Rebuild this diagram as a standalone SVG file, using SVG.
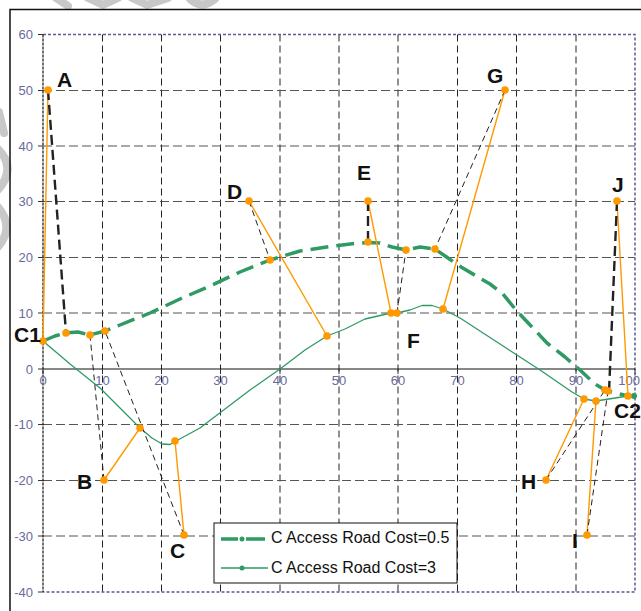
<svg xmlns="http://www.w3.org/2000/svg" width="641" height="611" viewBox="0 0 641 611">
<style>
.wm{fill:none;stroke:#c8c8c8;stroke-width:8;stroke-linecap:round;stroke-linejoin:round}
.vg{stroke:#222;stroke-width:1;stroke-dasharray:7 4;fill:none}
.hg{stroke:#555;stroke-width:1.2;stroke-dasharray:9 4;fill:none}
.bd{stroke:#5b5b8f;stroke-width:1.5;stroke-dasharray:3 2;fill:none}
.tk{font-family:"Liberation Sans",Arial,sans-serif;font-size:13px;fill:#6a6a9a}
.lb{font-family:"Liberation Sans",Arial,sans-serif;font-size:21px;font-weight:bold;fill:#111}
.lg{font-family:"Liberation Sans",Arial,sans-serif;font-size:16px;fill:#111}
.dot{fill:#FF9900}
.or{stroke:#FF9900;stroke-width:1.4;fill:none}
.bk{stroke:#222;stroke-width:1;stroke-dasharray:6 4;fill:none}
.bkt{stroke:#222;stroke-width:2.4;stroke-dasharray:10 5;fill:none}
.g1{stroke:#2f9a63;stroke-width:3.5;stroke-dasharray:18 8;fill:none;stroke-linejoin:round}
.g2{stroke:#2f9a63;stroke-width:1.3;fill:none;stroke-linejoin:round}
</style>
<rect width="641" height="611" fill="#fff"/>
<g id="watermark">
<path class="wm" d="M56,-2 L68,6"/>
<path class="wm" d="M88,-2 L103,5 L118,-2"/>
<path class="wm" d="M132,-2 L147,5 L168,-2"/>
<path class="wm" d="M190,-1 Q202,10 215,-1"/>
<path class="wm" stroke-width="6" d="M-1,112 L4,133"/>
<path class="wm" stroke-width="9" d="M-2,149 Q17,168 -2,190"/>
<path class="wm" stroke-width="8" d="M-2,207 Q15,227 -2,247"/>
</g>
<g id="frame">
<path d="M10,611 V9.5 H641" stroke="#111" stroke-width="1.5" fill="none"/>
</g>
<g id="grid">
<path class="vg" d="M102.5,34.5V592M161.5,34.5V592M220.5,34.5V592M280,34.5V592M339,34.5V592M398,34.5V592M457.5,34.5V592M516.5,34.5V592M576,34.5V592"/>
<path class="hg" d="M43,90.5H635M43,146H635M43,201.5H635M43,257.5H635M43,313H635M43,424.5H635M43,480.5H635M43,536H635"/>
<path class="bd" d="M43,34.5H635V592H43"/>
<path d="M43,34.5V592" stroke="#111" stroke-width="1.2" stroke-dasharray="3 1" fill="none"/>
<path d="M43,369H635" stroke="#111" stroke-width="1.2"/>
<path d="M38,34.5H43M38,90.5H43M38,146H43M38,201.5H43M38,257.5H43M38,313H43M38,369H43M38,424.5H43M38,480.5H43M38,536H43M38,592H43" stroke="#333" stroke-width="1"/>
<path d="M43,369V374M102.5,369V374M161.5,369V374M220.5,369V374M280,369V374M339,369V374M398,369V374M457.5,369V374M516.5,369V374M576,369V374M635,369V374" stroke="#333" stroke-width="1"/>
<g class="tk" text-anchor="end">
<text x="33" y="39">60</text><text x="33" y="95">50</text><text x="33" y="150.5">40</text><text x="33" y="206">30</text><text x="33" y="262">20</text><text x="33" y="317.5">10</text><text x="33" y="373.5">0</text><text x="33" y="429">-10</text><text x="33" y="485">-20</text><text x="33" y="540.5">-30</text><text x="33" y="596.5">-40</text>
</g>
<g class="tk" text-anchor="middle">
<text x="43" y="385">0</text><text x="102.5" y="385">10</text><text x="161.5" y="385">20</text><text x="220.5" y="385">30</text><text x="280" y="385">40</text><text x="339" y="385">50</text><text x="398" y="385">60</text><text x="457.5" y="385">70</text><text x="516.5" y="385">80</text><text x="576" y="385">90</text><text x="640" y="385" text-anchor="end">100</text>
</g>
</g>
<g id="connectors">
<polyline id="road-cost-3" class="g2" points="43,341 70,364 100,388 125,413 140,428 152,438 162,444 170,444.5 176,441 200,428 225,409 250,390 280,369 305,350 327,336 345,329 365,319 391,313 397,313 410,310 422,305.5 432,305.5 443,309 460,318 500,344 540,370 572,392 584,399 596,401 628,396 634,396"/>
<polyline id="road-cost-05" class="g1" points="43,341 55,336 66,333 78,332 90,335 105,331 120,325 150,313 180,299 210,286 240,272 270,260 300,251 330,246.5 355,243.5 368,242.5 380,243 392,247 406,250 420,247 435,249 448,258 461,267 490,284 503,294 516,310 532,327 547,343 565,357 580,370 595,384 605,390 608,391 628,396 634,396"/>
<path class="or" d="M48,90L43,341M104,480L140,428M184,535L175,441M249,201L327,336M368,201L391,313M505,90L443,309M546,480L584,399M587,535L596,401M617,201L628,396"/>
<path class="bkt" d="M48,90L66,333M368,201L368,242M617,201L609,392"/>
<path class="bk" d="M104,480L90,335M184,535L105,331M249,201L270,260M397,313L406,250M505,90L435,249M546,480L605,390M587,535L608,391"/>
<g class="dot">
<circle cx="66" cy="333" r="3.8"/><circle cx="90" cy="335" r="3.8"/><circle cx="105" cy="331" r="3.8"/><circle cx="140" cy="428" r="3.8"/><circle cx="175" cy="441" r="3.8"/><circle cx="270" cy="260" r="3.8"/><circle cx="327" cy="336" r="3.8"/><circle cx="368" cy="242" r="3.8"/><circle cx="391" cy="313" r="3.8"/><circle cx="406" cy="250" r="3.8"/><circle cx="435" cy="249" r="3.8"/><circle cx="443" cy="309" r="3.8"/><circle cx="584" cy="399" r="3.8"/><circle cx="596" cy="401" r="3.8"/><circle cx="605" cy="390" r="3.8"/><circle cx="608" cy="391" r="3.8"/>
</g>
<circle cx="634" cy="396" r="3" fill="#2f9a63"/>
</g>
<g id="node-C1"><circle class="dot" cx="43" cy="341" r="3.8"/><text class="lb" x="14" y="342">C1</text></g>
<g id="node-C2"><circle class="dot" cx="628" cy="396" r="3.8"/><text class="lb" x="614" y="418">C2</text></g>
<g id="node-A"><circle class="dot" cx="48" cy="90" r="3.8"/><text class="lb" x="57" y="87">A</text></g>
<g id="node-B"><circle class="dot" cx="104" cy="480" r="3.8"/><text class="lb" x="77" y="489">B</text></g>
<g id="node-C"><circle class="dot" cx="184" cy="535" r="3.8"/><text class="lb" x="170" y="558">C</text></g>
<g id="node-D"><circle class="dot" cx="249" cy="201" r="3.8"/><text class="lb" x="227" y="199">D</text></g>
<g id="node-E"><circle class="dot" cx="368" cy="201" r="3.8"/><text class="lb" x="357" y="180" fill="#333">E</text></g>
<g id="node-F"><circle class="dot" cx="397" cy="313" r="3.8"/><text class="lb" x="407" y="348">F</text></g>
<g id="node-G"><circle class="dot" cx="505" cy="90" r="3.8"/><text class="lb" x="487" y="83">G</text></g>
<g id="node-H"><circle class="dot" cx="546" cy="480" r="3.8"/><text class="lb" x="521" y="489">H</text></g>
<g id="node-I"><circle class="dot" cx="587" cy="535" r="3.8"/><text class="lb" x="572" y="548">I</text></g>
<g id="node-J"><circle class="dot" cx="617" cy="201" r="3.8"/><text class="lb" x="612" y="192">J</text></g>
<g id="legend">
<rect x="214" y="523" width="243" height="60" fill="#fff" stroke="#111" stroke-width="1"/>
<path d="M221,539H238M246,539H265" stroke="#2f9a63" stroke-width="3.5"/>
<circle cx="242" cy="539" r="2.5" fill="#2f9a63"/>
<text class="lg" x="271" y="543">C Access Road Cost=0.5</text>
<path d="M221,568H268" stroke="#2f9a63" stroke-width="1.3"/>
<circle cx="242" cy="568" r="2.5" fill="#2f9a63"/>
<text class="lg" x="271" y="573">C Access Road Cost=3</text>
</g>
</svg>
